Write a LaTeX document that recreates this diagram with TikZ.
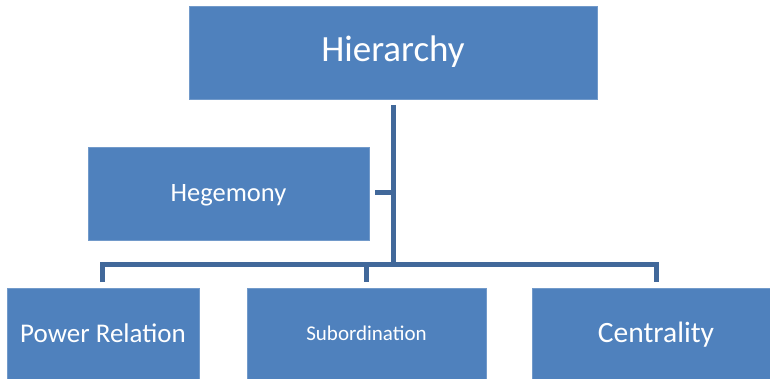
\documentclass[tikz,border=0pt]{standalone}
\usepackage{fontspec}
\setmainfont{Carlito}
\definecolor{boxblue}{HTML}{4F81BD}
\definecolor{lineblue}{HTML}{41689A}
\newcommand{\basetext}[2]{\raisebox{-#1}[0pt][0pt]{#2}}
\begin{document}
\begin{tikzpicture}[x=1pt,y=-1pt,
  boxnode/.style={rectangle, fill=boxblue, draw=boxblue!80!white, line width=0.6pt, inner sep=0pt, text=white, align=center},
  conn/.style={draw=lineblue, line width=5pt}]
\useasboundingbox (0,0) rectangle (770,379);
\node[boxnode, minimum width=408pt, minimum height=93pt, font=\fontsize{37}{40}\selectfont] (hier) at (393,52.5) {\basetext{9.5pt}{Hierarchy}};
\node[boxnode, minimum width=281pt, minimum height=93pt, font=\fontsize{26.5}{30}\selectfont] (heg) at (228.5,193.5) {\basetext{8.2pt}{Hegemony}};
\node[boxnode, minimum width=192pt, minimum height=91pt, font=\fontsize{27}{30}\selectfont] (pow) at (103,333.5) {\basetext{8.5pt}{Power Relation}};
\node[boxnode, minimum width=239pt, minimum height=91pt, font=\fontsize{21}{24}\selectfont] (sub) at (366.5,333.5) {\basetext{7pt}{Subordination}};
\node[boxnode, minimum width=238pt, minimum height=91pt, font=\fontsize{29.5}{33}\selectfont] (cen) at (651,333.5) {\basetext{9pt}{\hspace*{10pt}Centrality}};
\coordinate (trunktop) at (393,105);
\coordinate (trunkbot) at (393,264);
\coordinate (stubl) at (375,193);
\coordinate (stubr) at (393,193);
\coordinate (barl) at (102,264);
\coordinate (barr) at (656,264);
\coordinate (dropl) at (102,282);
\coordinate (dropm) at (366,282);
\coordinate (barm) at (366,264);
\coordinate (dropr) at (656,282);
\draw[conn] (trunktop) -- (trunkbot);
\draw[conn] (stubl) -- (stubr);
\draw[conn] (dropl) -- (barl) -- (barr) -- (dropr);
\draw[conn] (barm) -- (dropm);
\end{tikzpicture}
\end{document}
